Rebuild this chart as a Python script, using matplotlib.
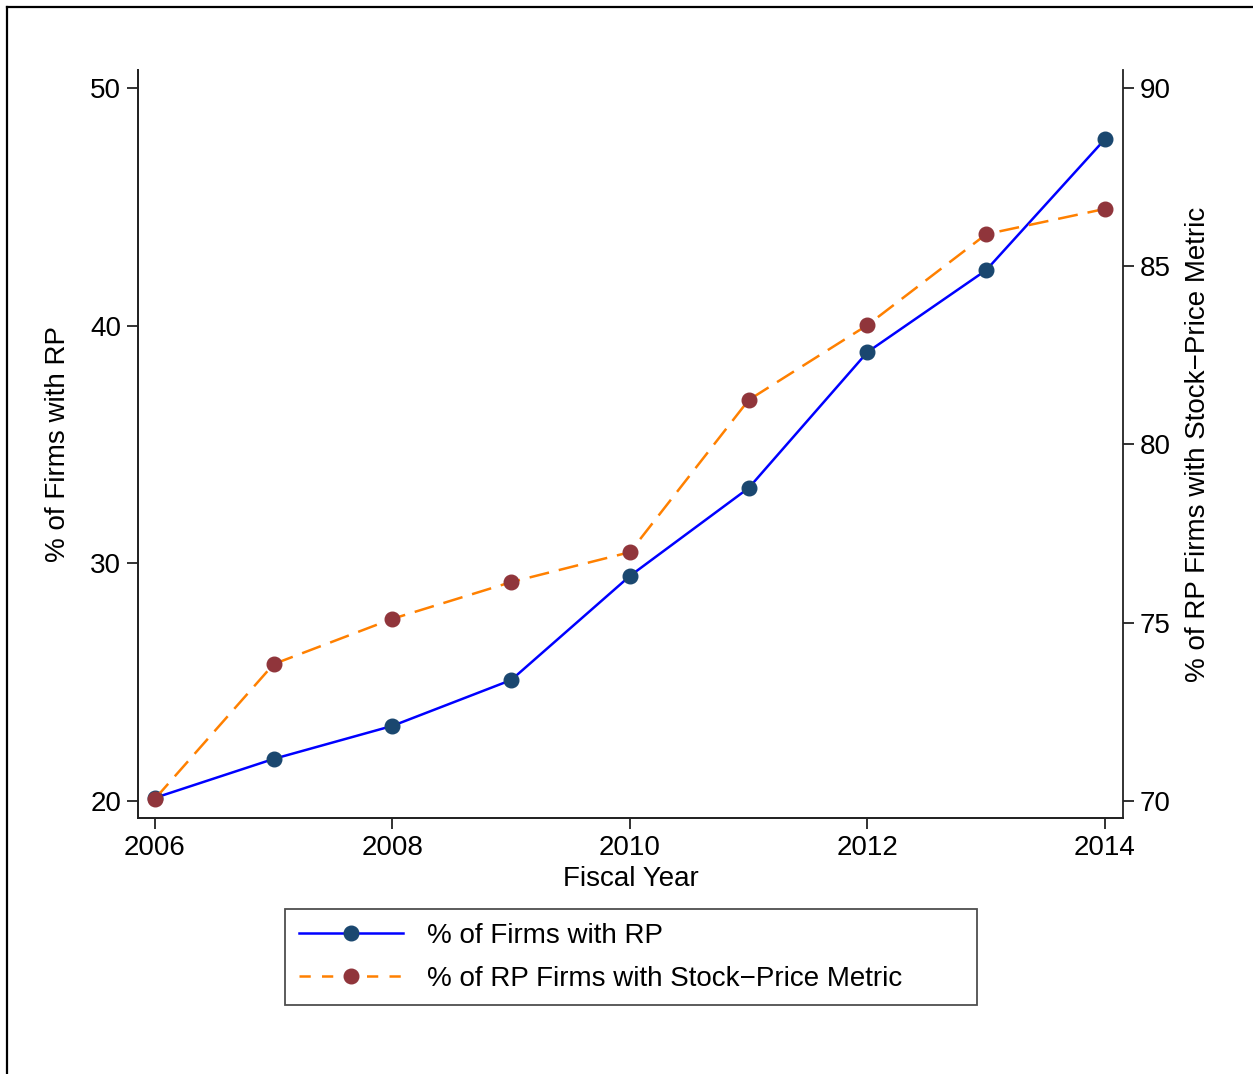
import matplotlib.pyplot as plt
from matplotlib.lines import Line2D

plt.rcParams['font.family'] = ['Liberation Sans', 'DejaVu Sans']

# Share of firms using relative performance (RP) by fiscal year
years = [2006, 2007, 2008, 2009, 2010, 2011, 2012, 2013, 2014]
pct_rp = [20.13, 21.77, 23.16, 25.09, 29.47, 33.17, 38.89, 42.34, 47.85]
pct_stock_price = [70.06, 73.84, 75.11, 76.14, 76.98, 81.25, 83.35, 85.90, 86.61]

FS = 20
blue_line = '#0000ff'
blue_mark = '#1a476f'
orange_line = '#ff8000'
red_mark = '#90353b'

fig = plt.figure(figsize=(12.53, 10.74), dpi=100)
ax = fig.add_axes([0.1101, 0.2384, 0.7862, 0.6964])
ax2 = ax.twinx()

l1, = ax.plot(years, pct_rp, color=blue_line, lw=1.8, marker='o', ms=10.5,
              mfc=blue_mark, mec=blue_mark, zorder=3)
l2, = ax2.plot(years, pct_stock_price, color=orange_line, lw=1.8, marker='o', ms=10.5,
               mfc=red_mark, mec=red_mark, dashes=(8, 4))

ax.set_xlim(2005.857, 2014.152)
ax.set_ylim(19.285, 50.757)
ax2.set_ylim(69.523, 90.505)
ax.set_xticks([2006, 2008, 2010, 2012, 2014])
ax.set_yticks([20, 30, 40, 50])
ax2.set_yticks([70, 75, 80, 85, 90])

for a in (ax, ax2):
    a.spines['top'].set_visible(False)
    for s in a.spines.values():
        s.set_linewidth(1.3)
        s.set_color('#222222')
    a.tick_params(labelsize=FS, length=8, width=1.3, color='#222222', pad=4)
ax.spines['right'].set_visible(False)

ax.set_xlabel('Fiscal Year', fontsize=FS, labelpad=4)
ax.set_ylabel('% of Firms with RP', fontsize=FS, labelpad=14)
ax2.set_ylabel('% of RP Firms with Stock\u2212Price Metric', fontsize=FS, labelpad=10)

handles = [
    Line2D([], [], color=blue_line, lw=1.8, marker='o', ms=10.5, mfc=blue_mark, mec=blue_mark),
    Line2D([], [], color=orange_line, lw=1.8, marker='o', ms=10.5, mfc=red_mark, mec=red_mark,
           dashes=(4.5, 4.5)),
]
x0, x1 = 285 / 1253, 977 / 1253
ytop = 1 - 909 / 1074
leg = fig.legend(handles, ['% of Firms with RP', '% of RP Firms with Stock\u2212Price Metric'],
                 loc='upper left', bbox_to_anchor=(x0, ytop - 0.1, x1 - x0, 0.1), mode='expand',
                 fontsize=FS, frameon=True, fancybox=False, edgecolor='#222222',
                 handlelength=3.75, handletextpad=0.85, borderpad=0.5, labelspacing=0.6,
                 borderaxespad=0)
leg.get_frame().set_linewidth(1.3)

# outer frame lines along the top and left edges
fig.add_artist(Line2D([7 / 1253, 1], [1 - 6.5 / 1074, 1 - 6.5 / 1074], color='black', lw=1.6))
fig.add_artist(Line2D([7 / 1253, 7 / 1253], [0, 1 - 6.5 / 1074], color='black', lw=1.6))

fig.savefig('out.png', dpi=100)
